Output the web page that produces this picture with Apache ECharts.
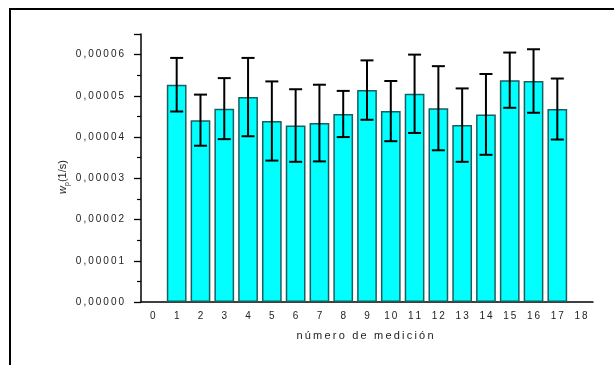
<!DOCTYPE html>
<html>
<head>
<meta charset="utf-8">
<script src="https://cdn.jsdelivr.net/npm/echarts@6/dist/echarts.min.js"></script>
<style>html,body{margin:0;padding:0;background:#fff}#c{width:614px;height:365px}</style>
</head>
<body>
<div id="c"></div>
<script>
// ---- data ----
const xTicks = ['0','1','2','3','4','5','6','7','8','9','10','11','12','13','14','15','16','17','18'];
const medicion = [1,2,3,4,5,6,7,8,9,10,11,12,13,14,15,16,17];
const wp = [0.0000527,0.0000441,0.0000469,0.0000497,0.0000439,0.0000428,0.0000434,0.0000456,0.0000514,0.0000463,0.0000505,0.0000470,0.0000429,0.0000455,0.0000538,0.0000536,0.0000468];
const wpErr = [0.0000065,0.0000062,0.0000074,0.0000095,0.0000096,0.0000088,0.0000093,0.0000056,0.0000072,0.0000073,0.0000095,0.0000102,0.0000089,0.0000098,0.0000067,0.0000077,0.0000074];
const yTicks = [0,0.00001,0.00002,0.00003,0.00004,0.00005,0.00006];

const sp = s => String(s).split('').join('\u2009');

const barData = xTicks.map((t,i) => {
  const k = medicion.indexOf(i);
  return k >= 0 ? wp[k] : '-';
});
const errData = medicion.map((m,k) => [m, wp[k], wpErr[k]]);

const chart = echarts.init(document.getElementById('c'), null, {renderer:'canvas'});
const font = 'Liberation Sans, Arial, sans-serif';
chart.setOption({
  animation: false,
  backgroundColor: '#fff',
  grid: {left: 141, right: 21, top: 34, bottom: 63},
  xAxis: [{
    type: 'category', data: xTicks, boundaryGap: true,
    axisLine: {lineStyle: {color: '#000', width: 1.5}},
    axisTick: {alignWithLabel: true, length: 5, lineStyle: {color: '#000', width: 1.3}},
    axisLabel: {color: '#222', fontSize: 10, fontFamily: font, margin: 9, formatter: v => sp(v)},
    splitLine: {show: false}
  }, {
    type: 'category', data: xTicks, boundaryGap: true, position: 'bottom',
    axisLine: {show: false},
    axisTick: {length: 3, lineStyle: {color: '#000', width: 1.2}},
    axisLabel: {show: false},
    splitLine: {show: false}
  }],
  yAxis: {
    type: 'value', min: 0, max: 0.000065, interval: 0.00001,
    axisLine: {show: true, lineStyle: {color: '#000', width: 1.5}},
    axisTick: {show: true, length: 7, lineStyle: {color: '#000', width: 1.3}},
    minorTick: {show: true, splitNumber: 2, length: 4, lineStyle: {color: '#000', width: 1.2}},
    splitLine: {show: false},
    axisLabel: {
      color: '#222', fontSize: 10, fontFamily: font, margin: 17,
      formatter: v => {
        const r = yTicks.find(t => Math.abs(t - v) < 1e-9);
        return r === undefined ? '' : sp(r.toFixed(5).replace('.', ','));
      }
    }
  },
  series: [{
    type: 'bar', data: barData, xAxisIndex: 0, barWidth: '83%',
    itemStyle: {color: '#00ffff', borderColor: '#1d5f5f', borderWidth: 1.5}
  }, {
    type: 'custom', xAxisIndex: 0, data: errData, z: 5,
    renderItem: (params, api) => {
      const x = api.value(0), v = api.value(1), e = api.value(2);
      const t = api.coord([x, v + e]), b = api.coord([x, v - e]);
      const hw = 6.5;
      const st = {stroke: '#000', lineWidth: 2};
      return {type: 'group', children: [
        {type: 'line', shape: {x1: t[0], y1: t[1], x2: b[0], y2: b[1]}, style: st},
        {type: 'line', shape: {x1: t[0]-hw, y1: t[1], x2: t[0]+hw, y2: t[1]}, style: st},
        {type: 'line', shape: {x1: b[0]-hw, y1: b[1], x2: b[0]+hw, y2: b[1]}, style: st}
      ]};
    }
  }],
  graphic: [
    {type: 'rect', shape: {x: 10, y: 9, width: 700, height: 500}, style: {fill: null, stroke: '#000', lineWidth: 2}, silent: true},
    {type: 'text', x: 365, y: 336, style: {text: sp('número de medición'), fontSize: 11, fontFamily: font, fill: '#222', align: 'center', verticalAlign: 'middle'}},
    {type: 'text', x: 63, y: 177, rotation: Math.PI/2,
      style: {text: '{w|w}{s|p}{n|(1/s)}', align: 'center', verticalAlign: 'middle', fill: '#222',
        rich: {
          w: {fontSize: 11, fontStyle: 'italic', fontFamily: font, fill: '#222'},
          s: {fontSize: 7, fontFamily: font, fill: '#222', padding: [8, 0, 0, 0]},
          n: {fontSize: 11, fontFamily: font, fill: '#222'}
        }}}
  ]
});
</script>
</body>
</html>
